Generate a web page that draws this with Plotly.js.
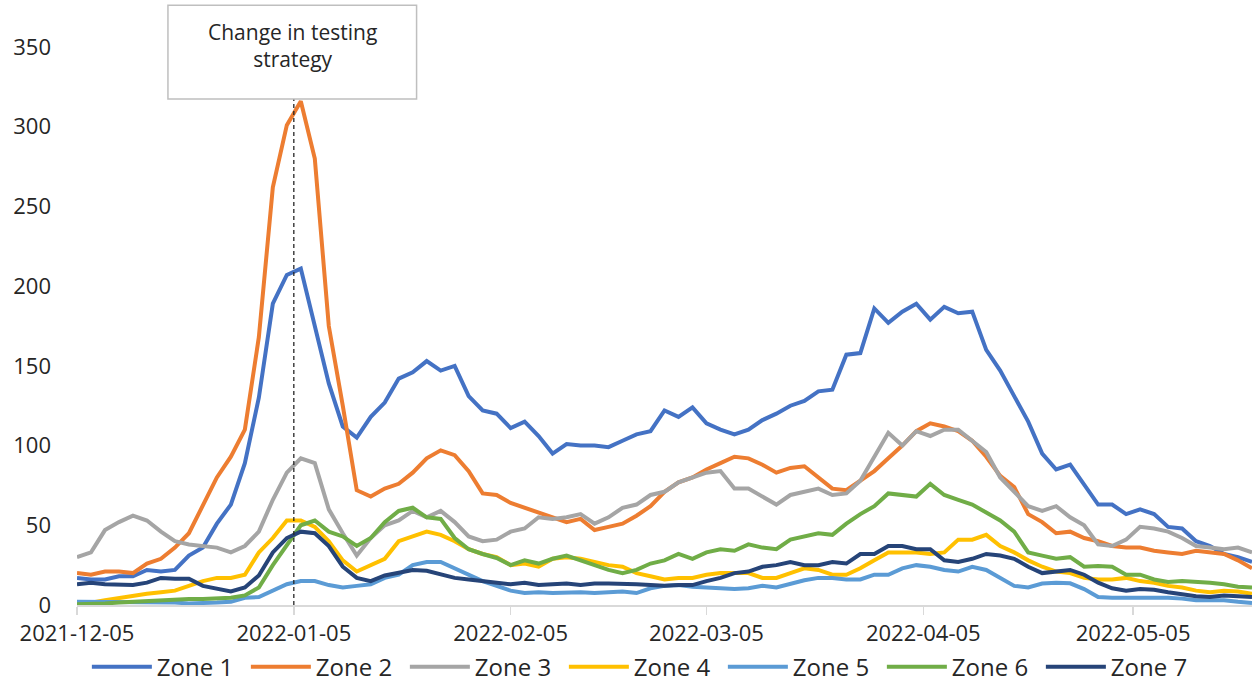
<!DOCTYPE html>
<html>
<head>
<meta charset="utf-8">
<script src="https://cdn.plot.ly/plotly-3.0.1.min.js"></script>
<style>html,body{margin:0;padding:0;background:#fff;}#chart{width:1254px;height:685px;}</style>
</head>
<body>
<div id="chart"></div>
<script>
// Every second day, 2021-12-05 .. 2022-05-22
var startDate = '2021-12-05';
var stepDays = 2;
var nPoints = 85;

var zone1 = [17,16,16,18,18,22,21,22,31,36,51,63,89,130,189,207,211,175,139,112,105,118,127,142,146,153,147,150,131,122,120,111,115,106,95,101,100,100,99,103,107,109,122,118,124,114,110,107,110,116,120,125,128,134,135,157,158,186,177,184,189,179,187,183,184,160,147,131,115,95,85,88,76,63,63,57,60,57,49,48,40,37,32,30,27];
var zone2 = [20,19,21,21,20,26,29,36,45,63,80,93,110,168,262,301,316,280,175,125,72,68,73,76,83,92,97,94,84,70,69,64,61,58,55,52,54,47,49,51,56,62,71,77,80,85,89,93,92,88,83,86,87,80,73,72,78,84,92,100,109,114,112,109,103,93,81,74,57,52,45,46,42,40,37,36,36,34,33,32,34,33,32,28,23];
var zone3 = [30,33,47,52,56,53,46,40,38,37,36,33,37,46,66,83,92,89,60,45,31,42,50,53,59,55,59,52,43,40,41,46,48,55,54,55,57,51,55,61,63,69,71,77,80,83,84,73,73,68,63,69,71,73,69,70,78,93,108,100,109,106,110,110,103,96,80,71,62,59,62,55,50,38,37,41,49,48,46,42,37,36,35,36,33];
var zone4 = [1,1.5,3,4.5,5.6,7,8,9,12,15,17,17,19,33,42,53,53,49,40,28,21,25,29,40,43,46,44,40,35,32,30,25,26,24,29,30,29,27,25,24,20,18,16,17,17,19,20,20,20,17,17,20,23,22,19,19,23,28,33,33,33,32,33,41,41,44,37,33,28,24,21,20,17,16,16,17,15,14,12,11,9,8,9,8.5,7];
var zone5 = [2,2,2,2,2,2,2,1.5,1,1,1.5,2,4.5,5,9,13,15,15,12.5,11,12,13,17,19,25,27,27,23,19,15,12,9,7.5,8,7.5,8,8,7.5,8,8.5,7.5,10.5,12,12.5,11.5,11,11,10,10.5,12,11,13.5,15.5,17,17,16,16,19,19,23,25,24,22,21,24,22,17,12,11,13.5,14,13.6,10,5,4.5,4.5,5,5,4.5,4,3,3,3,2,1.3];
var zone6 = [0.5,0.5,1,1.5,2,2.5,3,3.5,3.8,3.8,4,4.5,6,11,25,37,50,53,46,43,37,42,52,59,61,55,54,42,35,32,29.5,25,28,26,29,31,28,25,22,20,22,26,28,32,29,33,35,34,38,36,35,41,43,45,44,51,57,62,70,69,68,76,69,66,63,58,53,46,33,31,29,30,24,24.5,24,19,19,16,14.5,15,14.6,14,13,11.5,11];
var zone7 = [13,14,13,12.5,12.5,14,17,16.5,16.5,12,10.5,8.5,11,18.5,33,42,46,45,37,24,17,15,18.5,20,22,21.5,19,17,16,15,14,13,14,12.5,13,13.5,12.5,13.5,13.5,13.5,13,12.5,12,12.5,12.5,15,17,20,21,24,25,27,25,25,27,26,32,32,37,37,35,35,28,27,29,32,31,29,24,20,21,22,19,14,10.5,9,10,9.5,8,6.5,5.5,5,6,5.5,5];

var seriesNames = ['Zone 1','Zone 2','Zone 3','Zone 4','Zone 5','Zone 6','Zone 7'];
var seriesColors = ['#4472C4','#ED7D31','#A5A5A5','#FFC000','#5B9BD5','#70AD47','#264478'];
var seriesValues = [zone1, zone2, zone3, zone4, zone5, zone6, zone7];

var xTickVals = ['2021-12-05','2022-01-05','2022-02-05','2022-03-05','2022-04-05','2022-05-05'];
var yTickVals = [0,50,100,150,200,250,300,350];
var eventDate = '2022-01-05';
var eventText = 'Change in testing<br>strategy';

function isoDate(d){
  var y=d.getUTCFullYear(), m=d.getUTCMonth()+1, dd=d.getUTCDate();
  return y+'-'+(m<10?'0':'')+m+'-'+(dd<10?'0':'')+dd;
}
var dates = [];
var t0 = new Date(startDate+'T00:00:00Z');
for (var i=0;i<nPoints;i++){
  dates.push(isoDate(new Date(t0.getTime()+i*stepDays*86400000)));
}

var traces = seriesValues.map(function(v,i){
  return {x: dates, y: v, type:'scatter', mode:'lines', name: seriesNames[i],
          line:{color: seriesColors[i], width:4}, hoverinfo:'skip'};
});

var font = 'Open Sans, Noto Sans, sans-serif';
var layout = {
  width:1254, height:685,
  margin:{l:77, r:2, t:47, b:80},
  paper_bgcolor:'#fff', plot_bgcolor:'#fff',
  font:{family:font, size:22, color:'#262626'},
  showlegend:true,
  legend:{orientation:'h', x:0.0084, xanchor:'left', xref:'paper', y:0.026, yanchor:'middle', yref:'container',
          font:{family:font, size:24, color:'#262626'}, entrywidth:84, itemwidth:60, traceorder:'normal',
          tracegroupgap:0, itemclick:false},
  xaxis:{type:'date', range:['2021-12-05','2022-05-22'], tickvals:xTickVals, ticktext:xTickVals,
         showgrid:false, zeroline:false, showline:true, linecolor:'#D9D9D9', linewidth:1.5,
         ticks:'outside', ticklen:8, tickcolor:'#D9D9D9', tickwidth:1.5,
         tickfont:{family:font, size:22, color:'#262626'}, fixedrange:true},
  yaxis:{range:[0,350], tickvals:yTickVals, showgrid:false, zeroline:false, showline:false,
         ticks:'', ticklabelstandoff:25, tickfont:{family:font, size:22, color:'#262626'}, fixedrange:true},
  shapes:[
    {type:'line', xref:'x', yref:'paper', x0:eventDate, x1:eventDate, y0:0, y1:0.907,
     line:{color:'#262626', width:1.3, dash:'4px,3px'}, layer:'above'},
    {type:'rect', xref:'paper', yref:'paper', x0:0.0774, x1:0.289, y0:0.907, y1:1.075,
     fillcolor:'#FFFFFF', line:{color:'#BFBFBF', width:1.5}, layer:'above'}
  ],
  annotations:[
    {xref:'paper', yref:'paper', x:0.1832, y:1.003, xanchor:'center', yanchor:'middle',
     text:eventText, showarrow:false, align:'center',
     font:{family:font, size:21, color:'#262626'}}
  ]
};

Plotly.newPlot('chart', traces, layout, {displayModeBar:false, staticPlot:true});
</script>
</body>
</html>
